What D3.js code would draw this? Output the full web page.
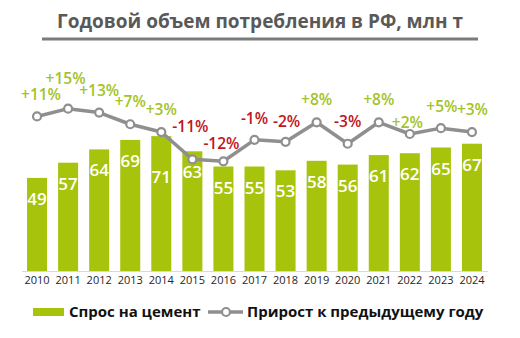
<!DOCTYPE html>
<html><head><meta charset="utf-8">
<script src="https://cdn.jsdelivr.net/npm/d3@7"></script>
<style>body{margin:0;background:#fff;}svg{display:block;}</style>
</head><body>
<script>
// ---- data ----
const title = "Годовой объем потребления в РФ, млн т";
const years = ["2010","2011","2012","2013","2014","2015","2016","2017","2018","2019","2020","2021","2022","2023","2024"];
const demand = [49,57,64,69,71,63,55,55,53,58,56,61,62,65,67];
const growth = [11,15,13,7,3,-11,-12,-1,-2,8,-3,8,2,5,3];
const seriesNames = ["Спрос на цемент","Прирост к предыдущему году"];

// ---- layout tweaks for label placement (px) ----
const growthLabelDy = [-16,-25,-17,-17,-17,-27,-12,-16,-15,-17,-17,-17,-6,-16,-17];
const growthLabelDx = [4,-2.5,0,0,0,-2,-2,0,1,0,0,0,-2.5,1,0.5];
const valueLabelDy  = [27,27,27,27,47,27,27,27,27,27,27,27,27,27,27];

const W = 520, H = 338;
const barColor = "#a8c30c", posColor = "#a3c32a", negColor = "#bf1521", lineColor = "#8f8f8f";
const font = "'Open Sans', 'Noto Sans', sans-serif";

const svg = d3.select("body").append("svg").attr("width", W).attr("height", H)
  .style("font-family", font);

// title
svg.append("text").attr("x", 260).attr("y", 28).attr("text-anchor", "middle")
  .attr("font-size", 19).attr("font-weight", 700).attr("fill", "#595959").text(title);
svg.append("line").attr("x1", 42).attr("x2", 478).attr("y1", 39).attr("y2", 39)
  .attr("stroke", "#7b7b7b").attr("stroke-width", 3);

const x = d3.scaleBand().domain(years).range([21.5, 487.5]).paddingInner(0.356).paddingOuter(0.178);
const yBar = d3.scaleLinear().domain([0, 100]).range([271, 81]);
const yLine = d3.scaleLinear().domain([-20, 20]).range([176.9, 98.9]);

// bars
svg.append("g").selectAll("rect").data(demand).join("rect")
  .attr("x", (d, i) => x(years[i])).attr("width", x.bandwidth())
  .attr("y", d => yBar(d)).attr("height", d => yBar(0) - yBar(d))
  .attr("fill", barColor);

// x axis
const ax = svg.append("g").attr("transform", `translate(0,${yBar(0)})`)
  .call(d3.axisBottom(x).tickSize(0));
ax.select(".domain").attr("stroke", "#d9d9d9");
ax.selectAll("text").attr("y", 13).attr("dy", 0)
  .attr("font-size", 11).attr("fill", "#262626").style("font-family", font);

// bar value labels
svg.append("g").selectAll("text").data(demand).join("text")
  .attr("x", (d, i) => x(years[i]) + x.bandwidth() / 2)
  .attr("y", (d, i) => yBar(d) + valueLabelDy[i])
  .attr("text-anchor", "middle").attr("font-size", 17).attr("font-weight", 600)
  .attr("fill", "#fff").text(d => d);

// growth line
const cx = i => x(years[i]) + x.bandwidth() / 2;
const line = d3.line().x((d, i) => cx(i)).y(d => yLine(d));
svg.append("path").datum(growth).attr("d", line).attr("fill", "none")
  .attr("stroke", lineColor).attr("stroke-width", 3.5).attr("stroke-linejoin", "round");
svg.append("g").selectAll("circle").data(growth).join("circle")
  .attr("cx", (d, i) => cx(i)).attr("cy", d => yLine(d)).attr("r", 4)
  .attr("fill", "#fff").attr("stroke", lineColor).attr("stroke-width", 2.2);

// growth labels
svg.append("g").selectAll("text").data(growth).join("text")
  .attr("x", (d, i) => cx(i) + growthLabelDx[i])
  .attr("y", (d, i) => yLine(d) + growthLabelDy[i])
  .attr("text-anchor", "middle").attr("font-size", 15.5).attr("font-weight", 600)
  .attr("fill", d => d >= 0 ? posColor : negColor)
  .text(d => (d > 0 ? "+" : "") + d + "%");

// legend
const lg = svg.append("g");
lg.append("rect").attr("x", 33).attr("y", 308).attr("width", 31).attr("height", 8).attr("fill", barColor);
lg.append("text").attr("x", 69).attr("y", 317).attr("font-size", 15).attr("font-weight", 700)
  .attr("fill", "#111").text(seriesNames[0]);
lg.append("line").attr("x1", 208).attr("x2", 243).attr("y1", 312).attr("y2", 312)
  .attr("stroke", lineColor).attr("stroke-width", 3.5);
lg.append("circle").attr("cx", 226).attr("cy", 312).attr("r", 4)
  .attr("fill", "#fff").attr("stroke", lineColor).attr("stroke-width", 2.2);
lg.append("text").attr("x", 247).attr("y", 317).attr("font-size", 15).attr("font-weight", 700)
  .attr("fill", "#111").text(seriesNames[1]);
</script>
</body></html>
